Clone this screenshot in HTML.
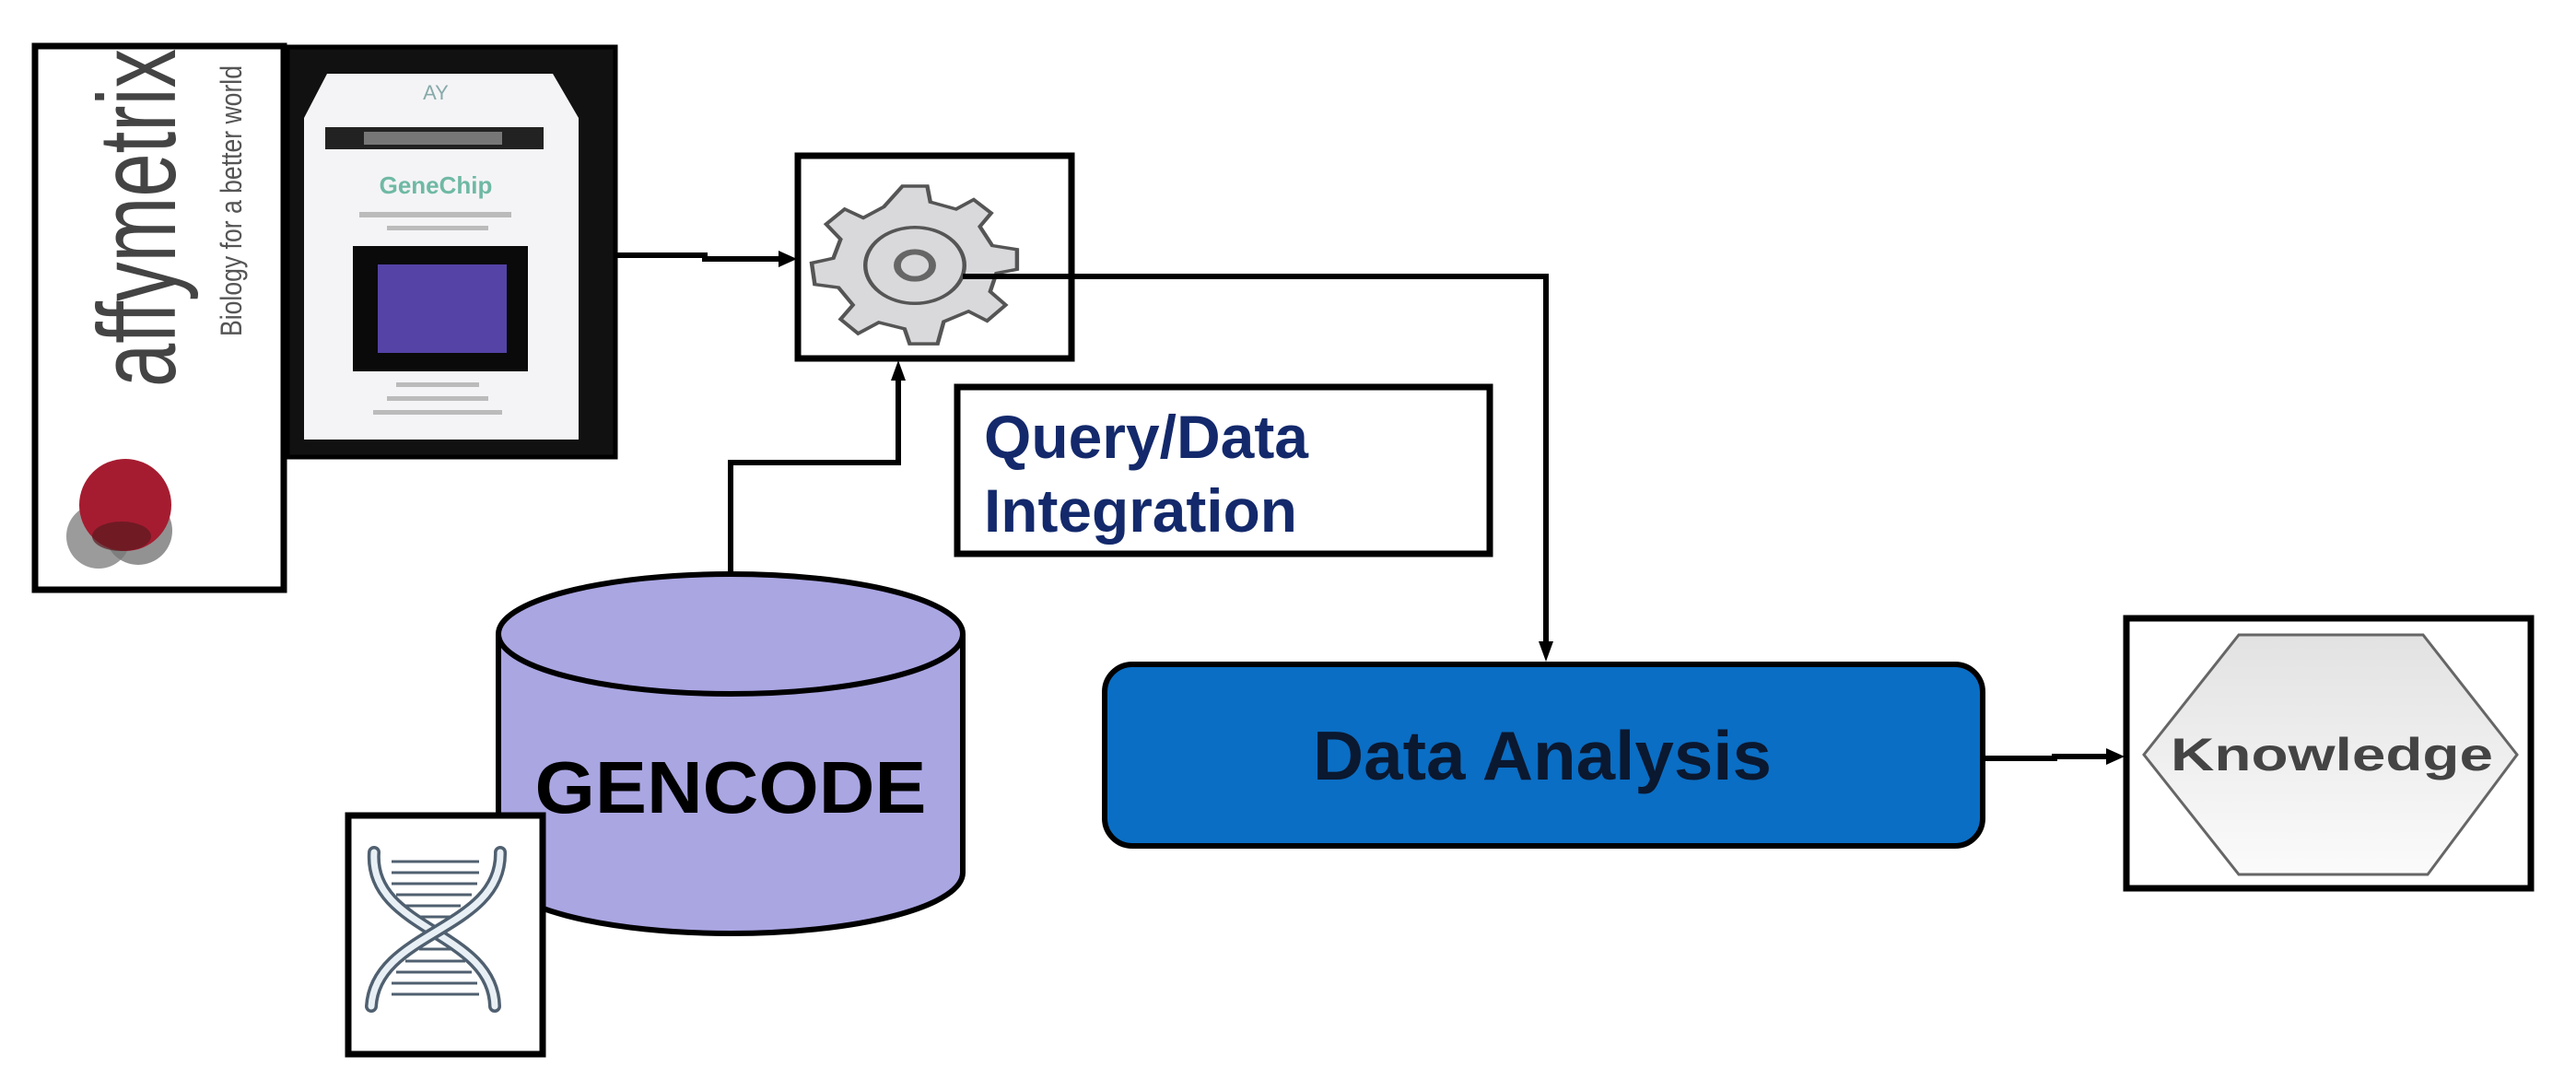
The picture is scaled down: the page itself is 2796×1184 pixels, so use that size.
<!DOCTYPE html>
<html><head><meta charset="utf-8"><style>
html,body{margin:0;padding:0;background:#fff;}
svg{display:block;}
text{font-family:"Liberation Sans",Arial,sans-serif;}
</style></head><body>
<svg width="2796" height="1184" viewBox="0 0 2796 1184" xmlns="http://www.w3.org/2000/svg">
<defs>
<linearGradient id="hexg" x1="0" y1="0" x2="0" y2="1"><stop offset="0" stop-color="#e2e2e2"/><stop offset="1" stop-color="#fbfbfb"/></linearGradient>
</defs>

<!-- Affymetrix box -->
<rect x="38" y="50" width="270" height="590" fill="#fff" stroke="#000" stroke-width="7"/>
<circle cx="107" cy="582" r="35" fill="#8a8a8a" opacity="0.85"/>
<circle cx="150" cy="576" r="37" fill="#777" opacity="0.8"/>
<circle cx="136" cy="548" r="50" fill="#a51c30"/>
<ellipse cx="132" cy="582" rx="32" ry="16" fill="#5a1a20" opacity="0.7"/>
<text transform="translate(190,420) rotate(-90)" font-size="120" fill="#444" textLength="367" lengthAdjust="spacingAndGlyphs">affymetrix</text>
<text transform="translate(262,365) rotate(-90)" font-size="32" fill="#555" textLength="294" lengthAdjust="spacingAndGlyphs">Biology for a better world</text>

<!-- GeneChip box -->
<rect x="312" y="51" width="356" height="445" fill="#111" stroke="#000" stroke-width="5"/>
<path d="M355,80 L600,80 L628,128 L628,477 L330,477 L330,128 Z" fill="#f4f4f6"/>
<rect x="353" y="138" width="237" height="24" fill="#222"/>
<rect x="395" y="143" width="150" height="14" fill="#777"/>
<text x="473" y="210" font-size="26" font-weight="bold" fill="#6fb9a4" text-anchor="middle">GeneChip</text>
<text x="473" y="108" font-size="22" fill="#8aa" text-anchor="middle">AY</text>
<rect x="390" y="230" width="165" height="6" fill="#bbb"/>
<rect x="420" y="245" width="110" height="5" fill="#bbb"/>
<rect x="383" y="267" width="190" height="136" fill="#0a0a0a"/>
<rect x="410" y="287" width="140" height="96" fill="#5543a6"/>
<rect x="430" y="415" width="90" height="5" fill="#bbb"/>
<rect x="420" y="430" width="110" height="5" fill="#bbb"/>
<rect x="405" y="445" width="140" height="5" fill="#bbb"/>

<!-- arrow chip -> gear -->
<path d="M670,277 L765,277 L765,281 L850,281" fill="none" stroke="#000" stroke-width="6"/>
<polygon points="865,281 845,272 845,290" fill="#000"/>

<!-- Gear box -->
<rect x="866" y="169" width="297" height="220" fill="#fff" stroke="#000" stroke-width="7"/>
<g transform="translate(993,288) scale(1.12,0.86)">
<path fill="#d9d9dc" stroke="#555" stroke-width="4" d="
M -12,-100 L 12,-100 L 15,-80 L 40,-71 L 57,-83 L 74,-66 L 63,-49 L 75,-25 L 99,-20 L 99,5 L 79,10 L 73,33 L 88,50 L 70,70 L 52,58 L 28,71 L 22,99 L -5,99 L -10,80 L -35,72 L -55,86 L -72,68 L -60,50 L -74,28 L -97,24 L -100,-3 L -79,-9 L -72,-33 L -86,-52 L -68,-71 L -50,-60 L -30,-74 Z"/>
<circle cx="0" cy="0" r="48" fill="none" stroke="#555" stroke-width="4"/>
<circle cx="0" cy="0" r="17" fill="none" stroke="#666" stroke-width="7"/>
</g>

<!-- gear -> data analysis -->
<path d="M1045,300 L1678,300 L1678,700" fill="none" stroke="#000" stroke-width="6"/>
<polygon points="1678,718 1670,696 1686,696" fill="#000"/>

<!-- Query box -->
<rect x="1039" y="420" width="578" height="181" fill="#fff" stroke="#000" stroke-width="7"/>
<text x="1068" y="497" font-size="66" font-weight="bold" fill="#13296b" textLength="352" lengthAdjust="spacingAndGlyphs">Query/Data</text>
<text x="1068" y="577" font-size="66" font-weight="bold" fill="#13296b" textLength="340" lengthAdjust="spacingAndGlyphs">Integration</text>

<!-- cylinder -> gear -->
<path d="M793,625 L793,502 L975,502 L975,410" fill="none" stroke="#000" stroke-width="6"/>
<polygon points="975,391 967,413 983,413" fill="#000"/>

<!-- Cylinder -->
<path d="M541,688 L541,947 A252,66 0 0 0 1045,947 L1045,688" fill="#aaa6e2" stroke="#000" stroke-width="6"/>
<ellipse cx="793" cy="688" rx="252" ry="65" fill="#aaa6e2" stroke="#000" stroke-width="6"/>
<text x="793" y="882" font-size="80" font-weight="bold" fill="#000" text-anchor="middle" textLength="425" lengthAdjust="spacingAndGlyphs">GENCODE</text>

<!-- DNA box -->
<rect x="378" y="885" width="211" height="259" fill="#fff" stroke="#000" stroke-width="7"/>
<g stroke="#506070" stroke-width="3" fill="none">
<line x1="425" y1="935" x2="520" y2="935"/><line x1="425" y1="947" x2="520" y2="947"/><line x1="425" y1="959" x2="518" y2="959"/><line x1="430" y1="971" x2="512" y2="971"/><line x1="440" y1="983" x2="500" y2="983"/><line x1="455" y1="995" x2="490" y2="995"/>
<line x1="455" y1="1030" x2="490" y2="1030"/><line x1="440" y1="1043" x2="505" y2="1043"/><line x1="430" y1="1055" x2="512" y2="1055"/><line x1="425" y1="1067" x2="518" y2="1067"/><line x1="425" y1="1079" x2="520" y2="1079"/>
</g>
<path d="M406,925 C400,1010 535,1010 537,1092" fill="none" stroke="#506070" stroke-width="14" stroke-linecap="round"/>
<path d="M406,925 C400,1010 535,1010 537,1092" fill="none" stroke="#e8f0f6" stroke-width="7" stroke-linecap="round"/>
<path d="M543,925 C545,1010 408,1010 403,1092" fill="none" stroke="#506070" stroke-width="14" stroke-linecap="round"/>
<path d="M543,925 C545,1010 408,1010 403,1092" fill="none" stroke="#e8f0f6" stroke-width="7" stroke-linecap="round"/>

<!-- Data Analysis -->
<rect x="1199" y="721" width="953" height="197" rx="30" ry="30" fill="#0a6ec4" stroke="#000" stroke-width="6"/>
<text x="1674" y="846" font-size="75" font-weight="bold" fill="#0a1830" text-anchor="middle" textLength="498" lengthAdjust="spacingAndGlyphs">Data Analysis</text>

<!-- arrow DA -> Knowledge -->
<path d="M2152,823 L2230,823 L2230,821 L2290,821" fill="none" stroke="#000" stroke-width="6"/>
<polygon points="2306,821 2286,812 2286,830" fill="#000"/>

<!-- Knowledge -->
<rect x="2308" y="671" width="439" height="293" fill="#fff" stroke="#000" stroke-width="7"/>
<polygon points="2430,689 2630,689 2732,819 2635,949 2430,949 2327,819" fill="url(#hexg)" stroke="#666" stroke-width="3"/>
<text x="2531" y="836" font-size="50" font-weight="bold" fill="#444" text-anchor="middle" textLength="350" lengthAdjust="spacingAndGlyphs">Knowledge</text>
</svg>
</body></html>
